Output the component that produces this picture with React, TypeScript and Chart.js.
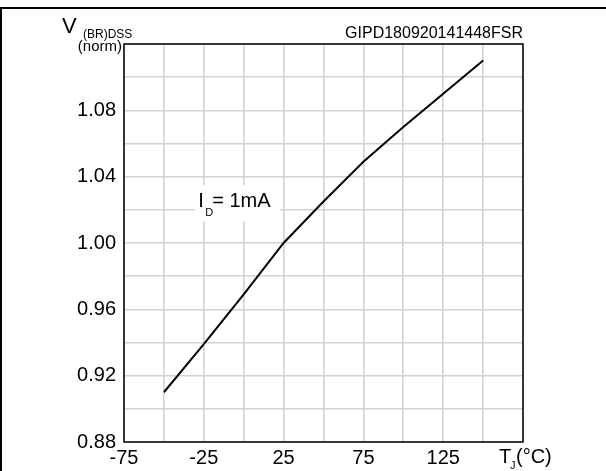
import React, { useEffect, useRef } from "react";
import { Chart, registerables } from "chart.js";

Chart.register(...registerables);

const temps = [-50, -25, 0, 25, 50, 75, 100, 125, 150];
const vnorm = [0.91, 0.939, 0.969, 1.0, 1.025, 1.049, 1.07, 1.09, 1.11];

const xMin = -75;
const xMax = 175;
const yMin = 0.88;
const yMax = 1.12;
const FONT = "'Liberation Sans', Arial, sans-serif";

const overlay = {
  id: "overlay",
  beforeDatasetsDraw(chart: any) {
    const ctx = chart.ctx;
    const xs = chart.scales.x;
    const ys = chart.scales.y;
    const ax = xs.getPixelForValue(-28.5);
    const ay = ys.getPixelForValue(1.0215);
    ctx.save();
    ctx.fillStyle = "#fff";
    ctx.fillRect(ax - 3, ay - 22, 85, 36);
    ctx.restore();
  },
  afterDraw(chart: any) {
    const ctx = chart.ctx;
    const ca = chart.chartArea;
    const xs = chart.scales.x;
    const ys = chart.scales.y;
    ctx.save();
    ctx.strokeStyle = "#000";
    ctx.lineWidth = 1.5;
    ctx.strokeRect(ca.left, ca.top, ca.right - ca.left, ca.bottom - ca.top);
    ctx.fillStyle = "#000";
    ctx.fillRect(0, 7, 606, 2);
    ctx.fillRect(0, 7, 2, 464);

    ctx.textBaseline = "alphabetic";
    ctx.font = `16px ${FONT}`;
    ctx.textAlign = "right";
    ctx.fillText("GIPD180920141448FSR", ca.right, 38);

    ctx.textAlign = "left";
    ctx.font = `22px ${FONT}`;
    ctx.fillText("V", 62, 33);
    ctx.font = `12px ${FONT}`;
    ctx.fillText("(BR)DSS", 83, 38);
    ctx.textAlign = "right";
    ctx.font = `15px ${FONT}`;
    ctx.fillText("(norm)", 122, 51);

    ctx.textAlign = "left";
    ctx.font = `20px ${FONT}`;
    ctx.fillText("T", 499, 463);
    ctx.font = `11px ${FONT}`;
    ctx.fillText("J", 510, 469);
    ctx.font = `20px ${FONT}`;
    ctx.fillText("(°C)", 516, 463);

    const ax = xs.getPixelForValue(-28.5);
    const ay = ys.getPixelForValue(1.0215);
    ctx.font = `20px ${FONT}`;
    ctx.fillText("I", ax, ay);
    ctx.font = `11px ${FONT}`;
    ctx.fillText("D", ax + 7, ay + 9);
    ctx.font = `20px ${FONT}`;
    ctx.fillText("= 1mA", ax + 14, ay);
    ctx.restore();
  },
};

export default function App() {
  const ref = useRef<HTMLCanvasElement | null>(null);

  useEffect(() => {
    if (!ref.current) return;
    const chart = new Chart(ref.current, {
      type: "line",
      data: {
        datasets: [
          {
            data: temps.map((t, i) => ({ x: t, y: vnorm[i] })),
            borderColor: "#000",
            borderWidth: 2,
            pointRadius: 0,
            tension: 0,
            fill: false,
          },
        ],
      },
      options: {
        responsive: false,
        animation: false,
        layout: { padding: { left: 0, top: 44, right: 83, bottom: 0 } },
        plugins: {
          legend: { display: false },
          title: { display: false },
          tooltip: { enabled: false },
        },
        scales: {
          x: {
            type: "linear",
            min: xMin,
            max: xMax,
            afterFit: (s: any) => {
              s.height = 29;
            },
            grid: { color: "#d2d2d2", lineWidth: 1.6, drawTicks: false },
            border: { display: false },
            ticks: {
              stepSize: 25,
              padding: 4,
              color: "#000",
              font: { family: FONT, size: 20 },
              maxRotation: 0,
              autoSkip: false,
              callback: (v: any) => {
                const n = Math.round(Number(v));
                return (n - xMin) % 50 === 0 && n < xMax ? String(n) : "";
              },
            },
          },
          y: {
            type: "linear",
            min: yMin,
            max: yMax,
            afterFit: (s: any) => {
              s.width = 124;
            },
            grid: { color: "#d2d2d2", lineWidth: 1.6, drawTicks: false },
            border: { display: false },
            ticks: {
              stepSize: 0.02,
              padding: 8,
              color: "#000",
              font: { family: FONT, size: 20 },
              autoSkip: false,
              callback: (v: any) => {
                const n = Math.round(Number(v) * 100);
                return (n - 88) % 4 === 0 && n < 112 ? (n / 100).toFixed(2) : "";
              },
            },
          },
        },
      },
      plugins: [overlay],
    });
    return () => chart.destroy();
  }, []);

  return (
    <div style={{ position: "fixed", left: 0, top: 0, width: 606, height: 471, background: "#fff" }}>
      <canvas ref={ref} width={606} height={471} style={{ display: "block" }} />
    </div>
  );
}
